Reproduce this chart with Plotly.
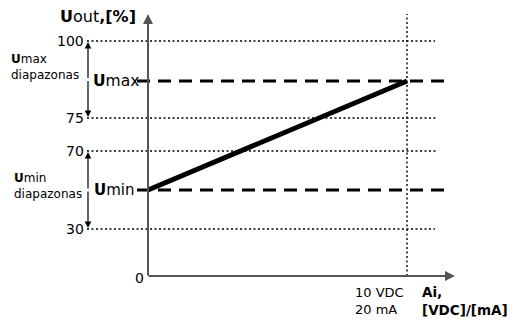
import numpy as np
import plotly.graph_objects as go

# ---- data ----
tick_values = [0, 30, 70, 75, 100]          # % levels on the vertical axis
tick_labels = ["0", "30", "70", "75", "100"]
u_min = 50                                   # Umin output level, %
u_max = 87                                   # Umax output level, %
x_input = [0, 10]                            # Ai input, VDC
x_label_top = "10 VDC"
x_label_bottom = "20 mA"

# ---- schematic (non-linear) vertical layout ----
W, H = 515, 323
OFF = 8                                      # page body margin
LEVEL_PX = [276, 229, 151, 118, 41]          # drawing position of each tick level
X0_PX, X10_PX = 148, 407
SCALE = (X10_PX - X0_PX) / 10.0
XMIN = -(X0_PX - OFF) / SCALE
XMAX = XMIN + W / SCALE

def ypos(v):
    return float(np.interp(v, tick_values, LEVEL_PX))

def px2x(px):
    return XMIN + (px - OFF) / SCALE

FONT = "DejaVu Sans, Verdana, sans-serif"
AX_COL = "#555555"

fig = go.Figure()

# main transfer line
fig.add_trace(go.Scatter(
    x=x_input, y=[ypos(u_min), ypos(u_max)], mode="lines",
    line=dict(color="black", width=5), hoverinfo="skip", showlegend=False))

shapes = []
# dotted guide lines at the range levels
for v in [30, 70, 75, 100]:
    shapes.append(dict(type="line", xref="x", yref="y",
                       x0=px2x(87), x1=px2x(438 if v in (70, 75) else 435),
                       y0=ypos(v), y1=ypos(v),
                       line=dict(color="#000000", width=1.4, dash="2px,2.5px")))
# dashed Umin / Umax lines
for v in [u_min, u_max]:
    shapes.append(dict(type="line", xref="x", yref="y",
                       x0=px2x(137), x1=px2x(445), y0=ypos(v), y1=ypos(v),
                       line=dict(color="black", width=3, dash="13px,8px")))
# vertical dotted line at 10 VDC
shapes.append(dict(type="line", xref="x", yref="y",
                   x0=x_input[1], x1=x_input[1], y0=ypos(0), y1=14,
                   line=dict(color="#000000", width=1.4, dash="2px,2.5px")))

annotations = []
def arrow(x, y, ax, ay, color, width, size=1.0, head=2):
    annotations.append(dict(x=x, y=y, ax=ax, ay=ay, xref="x", yref="y",
                            axref="x", ayref="y", text="", showarrow=True,
                            arrowhead=head, arrowsize=size, arrowwidth=width,
                            arrowcolor=color))

# axes with arrowheads
arrow(0, 14, 0, ypos(0) + 1, AX_COL, 2, 1.0)
arrow(px2x(455), ypos(0), px2x(147), ypos(0), AX_COL, 2, 1.0)

# range double arrows
for lo, hi in [(75, 100), (30, 70)]:
    arrow(px2x(88), ypos(hi) + 1, px2x(88), (ypos(hi) + ypos(lo)) / 2, "black", 1.2, 1.1)
    arrow(px2x(88), ypos(lo) - 1, px2x(88), (ypos(hi) + ypos(lo)) / 2, "black", 1.2, 1.1)

def text(px, py, s, size=12, xanchor="left", yanchor="middle", align="left"):
    annotations.append(dict(x=px2x(px), y=py, xref="x", yref="y", text=s,
                            showarrow=False, xanchor=xanchor, yanchor=yanchor,
                            align=align, font=dict(family=FONT, size=size, color="black")))

# tick labels
for v, lab in zip(tick_values, tick_labels):
    if v == 0:
        text(146, ypos(v) + 2, lab, 14, xanchor="right")
    else:
        text(86, ypos(v), lab, 14, xanchor="right")

# titles
text(58, 16, "<b>U</b>out<b>,[%]</b>", 16)
text(9, 67, "<b>U</b>max<br>diapazonas", 12, align="left")
text(12, 186, "<b>U</b>min<br>diapazonas", 12, align="left")
text(91, ypos(u_max), "<b>U</b>max", 15.5)
text(92, ypos(u_min), "<b>U</b>min", 15)
text(379, 301, x_label_top + "<br>" + x_label_bottom, 13, xanchor="center", align="left")
text(420, 301, "<b>Ai,<br>[VDC]/[mA]</b>", 13.5, align="left")

fig.update_layout(
    width=W, height=H, margin=dict(l=0, r=0, t=0, b=0),
    paper_bgcolor="white", plot_bgcolor="white",
    xaxis=dict(range=[XMIN, XMAX], visible=False, fixedrange=True),
    yaxis=dict(range=[H + OFF, OFF], visible=False, fixedrange=True),
    shapes=shapes, annotations=annotations, showlegend=False)

fig.write_html("out.html")
